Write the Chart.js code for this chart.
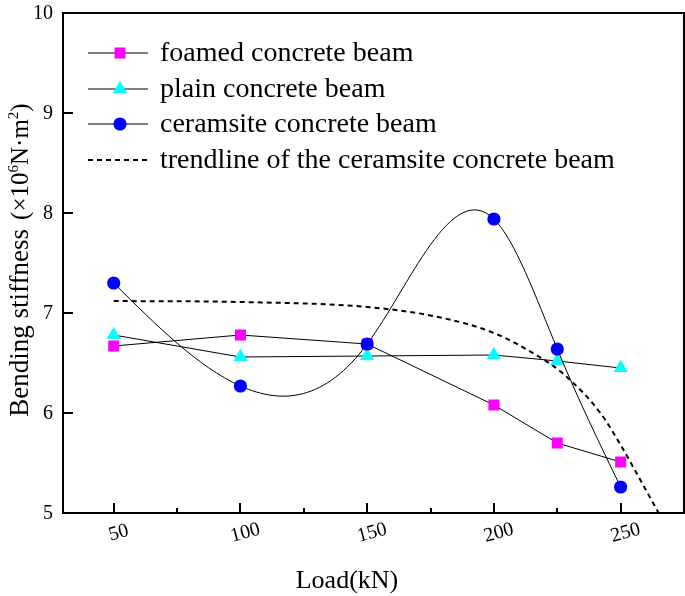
<!DOCTYPE html>
<html><head><meta charset="utf-8">
<script src="https://cdn.jsdelivr.net/npm/chart.js@4.4.0/dist/chart.umd.min.js"></script>
<style>html,body{margin:0;padding:0;background:#fff}#wrap{width:685px;height:596px;position:relative}</style>
</head><body><div id="wrap"><canvas id="c" width="685" height="596"></canvas></div>
<script>
const loads = [50, 100, 150, 200, 225, 250];
const foamed = [6.67, 6.78, 6.69, 6.08, 5.70, 5.51];
const plain = [6.78, 6.56, 6.57, 6.58, 6.52, 6.45];
const ceramsite = [7.30, 6.27, 6.69, 7.94, 6.64, 5.26];
const trendX = [50, 100, 150, 178, 200, 218, 227, 242, 250, 258, 265];
const trendY = [7.12, 7.11, 7.06, 6.96, 6.80, 6.56, 6.40, 6.00, 5.68, 5.32, 5.00];
const xTicks = [50, 100, 150, 200, 250];
const xMinorTicks = [75, 125, 175, 225];
const yTicks = [5, 6, 7, 8, 9, 10];
const seriesNames = ['foamed concrete beam', 'plain concrete beam', 'ceramsite concrete beam', 'trendline of the ceramsite concrete beam'];
const xTitle = 'Load(kN)';
const yTitleMain = 'Bending stiffness';
const yTitleUnit = [['(\u00D710', 0], ['6', 1], ['N\u00B7m', 0], ['2', 1], [')', 0]];

const SERIF = '"Liberation Serif", "Times New Roman", serif';
const toXY = (xs, ys) => xs.map((x, i) => ({x: x, y: ys[i]}));

const styles = [
  {pointStyle: 'rect', radius: 7.8, color: '#FF00FF'},
  {pointStyle: 'triangle', radius: 8.2, color: '#00FFFF'},
  {pointStyle: 'circle', radius: 6.6, color: '#0000FF'}
];

// Natural cubic spline rendering for the ceramsite series (Bezier control points from the data pixels)
const splinePlugin = {
  id: 'spline',
  beforeDatasetDraw(chart, args) {
    const ds = chart.data.datasets[args.index];
    if (!ds.naturalSpline) return;
    const meta = args.meta;
    const line = meta.dataset;
    line.updateControlPoints(chart.chartArea, 'x');
    const pts = meta.data;
    const n = pts.length;
    const xs = pts.map(p => p.x), ys = pts.map(p => p.y);
    const h = [];
    for (let i = 0; i < n - 1; i++) h.push(xs[i + 1] - xs[i]);
    const M = new Array(n).fill(0);
    const a = [], b = [], c = [], d = [];
    for (let i = 1; i < n - 1; i++) {
      a.push(h[i - 1]); b.push(2 * (h[i - 1] + h[i])); c.push(h[i]);
      d.push(6 * ((ys[i + 1] - ys[i]) / h[i] - (ys[i] - ys[i - 1]) / h[i - 1]));
    }
    const m = b.length;
    for (let i = 1; i < m; i++) {
      const w = a[i] / b[i - 1];
      b[i] -= w * c[i - 1];
      d[i] -= w * d[i - 1];
    }
    const sol = new Array(m).fill(0);
    if (m > 0) {
      sol[m - 1] = d[m - 1] / b[m - 1];
      for (let i = m - 2; i >= 0; i--) sol[i] = (d[i] - c[i] * sol[i + 1]) / b[i];
    }
    for (let i = 1; i < n - 1; i++) M[i] = sol[i - 1];
    const slope = new Array(n);
    for (let i = 0; i < n - 1; i++) {
      slope[i] = (ys[i + 1] - ys[i]) / h[i] - h[i] * (2 * M[i] + M[i + 1]) / 6;
    }
    slope[n - 1] = (ys[n - 1] - ys[n - 2]) / h[n - 2] + h[n - 2] * (M[n - 2] + 2 * M[n - 1]) / 6;
    for (let i = 0; i < n; i++) {
      const hp = i > 0 ? h[i - 1] : 0;
      const hn = i < n - 1 ? h[i] : 0;
      pts[i].cp1x = xs[i] - hp / 3; pts[i].cp1y = ys[i] - slope[i] * hp / 3;
      pts[i].cp2x = xs[i] + hn / 3; pts[i].cp2y = ys[i] + slope[i] * hn / 3;
    }
    line._pointsUpdated = true;
    line._path = undefined;
  }
};

const framePlugin = {
  id: 'frame',
  afterDraw(chart) {
    const ctx = chart.ctx, ca = chart.chartArea;
    const xs = chart.scales.x, ys = chart.scales.y;
    ctx.save();
    ctx.strokeStyle = '#000';
    ctx.lineWidth = 2;
    ctx.strokeRect(ca.left, ca.top, ca.right - ca.left, ca.bottom - ca.top);
    ctx.beginPath();
    xTicks.forEach(v => { const px = Math.round(xs.getPixelForValue(v)); ctx.moveTo(px, ca.bottom); ctx.lineTo(px, ca.bottom - 10); });
    xMinorTicks.forEach(v => { const px = Math.round(xs.getPixelForValue(v)); ctx.moveTo(px, ca.bottom); ctx.lineTo(px, ca.bottom - 5); });
    yTicks.forEach(v => { const py = Math.round(ys.getPixelForValue(v)); ctx.moveTo(ca.left, py); ctx.lineTo(ca.left + 10, py); });
    ctx.stroke();
    ctx.fillStyle = '#000';
    ctx.font = '20px ' + SERIF;
    ctx.textAlign = 'right'; ctx.textBaseline = 'middle';
    yTicks.forEach(v => { ctx.fillText(String(v), ca.left - 10, ys.getPixelForValue(v) + 1); });
    ctx.textAlign = 'center';
    xTicks.forEach(v => {
      ctx.save();
      ctx.translate(xs.getPixelForValue(v) + 5, ca.bottom + 20);
      ctx.rotate(-15 * Math.PI / 180);
      ctx.fillText(String(v), 0, 0);
      ctx.restore();
    });
    ctx.font = '26px ' + SERIF;
    ctx.fillText(xTitle, 347, 581);

    // y-axis title, drawn piecewise with superscripts
    ctx.save();
    ctx.translate(28, 260);
    ctx.rotate(-Math.PI / 2);
    ctx.textAlign = 'left'; ctx.textBaseline = 'alphabetic';
    const mainF = '27px ' + SERIF, big = '25px ' + SERIF, small = '15px ' + SERIF;
    ctx.font = mainF;
    const wMain = ctx.measureText(yTitleMain).width;
    const gap = 9;
    let wUnit = 0;
    yTitleUnit.forEach(([t, sup]) => { ctx.font = sup ? small : big; wUnit += ctx.measureText(t).width; });
    let x = -(wMain + gap + wUnit) / 2;
    ctx.font = mainF;
    ctx.fillText(yTitleMain, x, 0);
    x += wMain + gap;
    yTitleUnit.forEach(([t, sup]) => {
      ctx.font = sup ? small : big;
      ctx.fillText(t, x, sup ? -10 : 0);
      x += ctx.measureText(t).width;
    });
    ctx.restore();

    // legend
    const rows = [53, 89, 124, 160];
    ctx.font = '28px ' + SERIF;
    ctx.textAlign = 'left'; ctx.textBaseline = 'middle';
    rows.forEach((y, i) => {
      ctx.save();
      ctx.strokeStyle = '#000';
      if (i === 3) { ctx.lineWidth = 2; ctx.setLineDash([5, 4]); } else { ctx.lineWidth = 1; }
      ctx.beginPath(); ctx.moveTo(88, y); ctx.lineTo(148, y); ctx.stroke();
      ctx.restore();
      if (i < 3) {
        ctx.save();
        ctx.fillStyle = styles[i].color;
        Chart.helpers.drawPoint(ctx, {pointStyle: styles[i].pointStyle, radius: styles[i].radius, rotation: 0, borderWidth: 0}, 120, y);
        ctx.restore();
      }
      ctx.fillStyle = '#000';
      ctx.fillText(seriesNames[i], 160, y + 1);
    });
    ctx.restore();
  }
};

const mk = (i, data) => ({
  label: seriesNames[i], data: data,
  borderColor: '#000', borderWidth: 1,
  pointStyle: styles[i].pointStyle, pointRadius: styles[i].radius,
  pointBackgroundColor: styles[i].color, pointBorderColor: styles[i].color, pointBorderWidth: 0,
  tension: 0, fill: false
});

const dsFoamed = Object.assign(mk(0, toXY(loads, foamed)), {order: 1});
const dsPlain = Object.assign(mk(1, toXY(loads, plain)), {order: 2});
const dsCeram = Object.assign(mk(2, toXY(loads, ceramsite)), {order: 0, tension: 0.4, naturalSpline: true});
const dsTrend = {
  label: seriesNames[3], data: toXY(trendX, trendY), order: 3,
  borderColor: '#000', borderWidth: 2, borderDash: [5, 4], pointRadius: 0,
  tension: 0.4, cubicInterpolationMode: 'monotone', fill: false
};

new Chart(document.getElementById('c'), {
  type: 'line',
  data: {datasets: [dsFoamed, dsPlain, dsCeram, dsTrend]},
  options: {
    responsive: false, animation: false, events: [],
    layout: {autoPadding: false, padding: {top: 13, right: 1, left: 0, bottom: 0}},
    plugins: {legend: {display: false}, tooltip: {enabled: false}},
    scales: {
      x: {type: 'linear', min: 30, max: 275, ticks: {display: false}, grid: {display: false}, border: {display: false},
          afterFit: s => { s.height = 83; }},
      y: {type: 'linear', min: 5, max: 10, ticks: {display: false}, grid: {display: false}, border: {display: false},
          afterFit: s => { s.width = 63; }}
    }
  },
  plugins: [splinePlugin, framePlugin]
});
</script></body></html>
